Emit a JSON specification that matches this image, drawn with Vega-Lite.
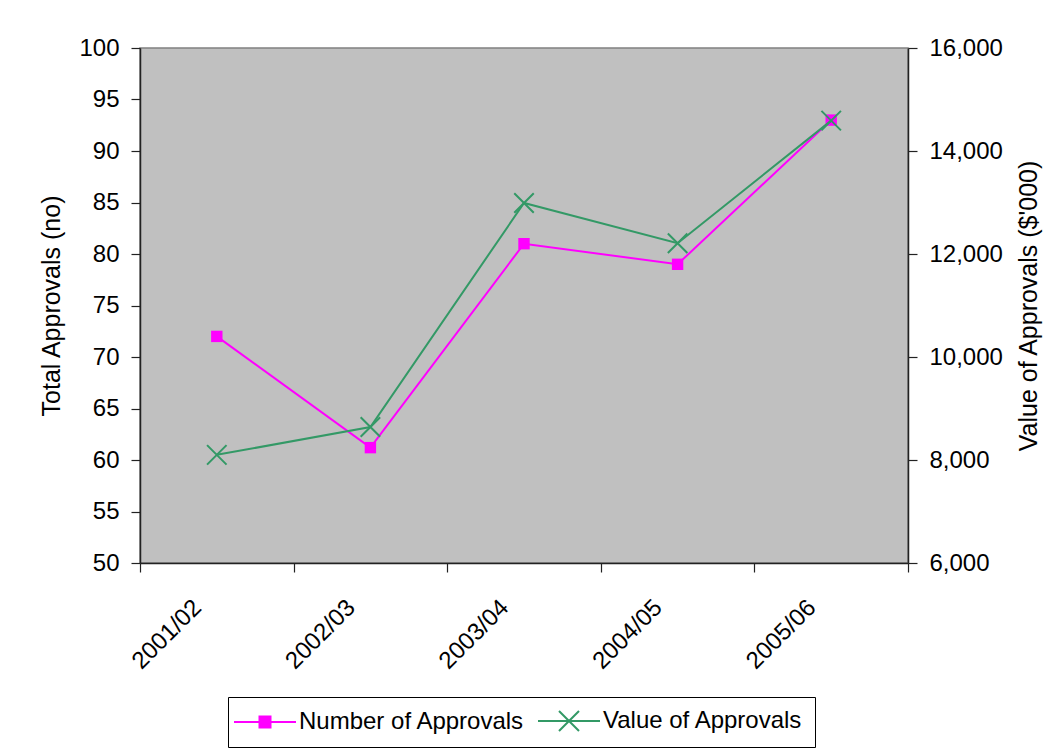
{
  "$schema": "https://vega.github.io/schema/vega-lite/v6.json",
  "width": 768,
  "height": 515,
  "autosize": "none",
  "padding": {"left": 140, "top": 48, "right": 150, "bottom": 186},
  "background": "white",
  "config": {
    "font": "Liberation Sans",
    "view": {"fill": "#C0C0C0", "stroke": "#808080", "strokeWidth": 1.5},
    "axis": {
      "grid": false,
      "domainColor": "#222222",
      "domainWidth": 1.5,
      "tickColor": "#222222",
      "tickWidth": 1.2,
      "tickSize": 9,
      "labelColor": "black",
      "labelFont": "Liberation Sans",
      "labelFontSize": 24,
      "titleColor": "black",
      "titleFont": "Liberation Sans",
      "titleFontSize": 25,
      "titleFontWeight": "normal"
    }
  },
  "data": {
    "values": [
      {"year": "2001/02", "number": 72, "value": 8100},
      {"year": "2002/03", "number": 61.2, "value": 8640},
      {"year": "2003/04", "number": 81, "value": 12990},
      {"year": "2004/05", "number": 79, "value": 12210},
      {"year": "2005/06", "number": 93, "value": 14590}
    ]
  },
  "encoding": {
    "x": {
      "field": "year",
      "type": "nominal",
      "sort": null,
      "scale": {"paddingInner": 0, "paddingOuter": 0},
      "axis": {
        "title": null,
        "labelAngle": -45,
        "labelPadding": 23,
        "labelOffset": -28,
        "tickBand": "extent",
        "labelAlign": "right",
        "labelBaseline": "top"
      }
    }
  },
  "layer": [
    {
      "layer": [
        {
          "mark": {"type": "line", "strokeWidth": 2},
          "encoding": {
            "y": {
              "field": "number",
              "type": "quantitative",
              "scale": {"domain": [50, 100], "nice": false, "zero": false},
              "axis": {
                "orient": "left",
                "title": "Total Approvals (no)",
                "values": [50, 55, 60, 65, 70, 75, 80, 85, 90, 95, 100],
                "labelPadding": 12,
                "titlePadding": 14
              }
            },
            "color": {
              "datum": "Number of Approvals",
              "type": "nominal",
              "scale": {"domain": ["Number of Approvals", "Value of Approvals"], "range": ["#FF00FF", "#339966"]},
              "legend": {
                "orient": "none",
                "legendX": 88,
                "legendY": 649,
                "direction": "horizontal",
                "title": null,
                "strokeColor": "black",
                "fillColor": "white",
                "padding": 12,
                "labelFontSize": 24,
                "labelFont": "Liberation Sans",
                "labelColor": "black",
                "labelLimit": 500,
                "symbolSize": 400,
                "symbolStrokeWidth": 2,
                "symbolOffset": 13,
                "labelOffset": 22,
                "columnPadding": 9,
                "symbolType": "M-3.1,0H3.1",
                "encode": {
                  "symbols": {
                    "update": {
                      "shape": {"signal": "datum.value === 'Number of Approvals' ? 'M-3.1,0H3.1M-0.55,-0.55H0.55V0.55H-0.55Z' : 'M-3.1,0H3.1M-1,-1L1,1M-1,1L1,-1'"},
                      "fill": {"signal": "datum.value === 'Number of Approvals' ? '#FF00FF' : 'transparent'"},
                      "stroke": {"signal": "datum.value === 'Number of Approvals' ? '#FF00FF' : '#339966'"},
                      "opacity": {"value": 1},
                      "fillOpacity": {"value": 1},
                      "strokeOpacity": {"value": 1}
                    }
                  }
                }
              }
            }
          }
        },
        {
          "mark": {"type": "point", "shape": "square", "filled": true, "size": 130, "opacity": 1},
          "encoding": {
            "y": {"field": "number", "type": "quantitative"},
            "color": {"datum": "Number of Approvals", "type": "nominal"}
          }
        }
      ]
    },
    {
      "layer": [
        {
          "mark": {"type": "line", "strokeWidth": 2},
          "encoding": {
            "y": {
              "field": "value",
              "type": "quantitative",
              "scale": {"domain": [6000, 16000], "nice": false, "zero": false},
              "axis": {
                "orient": "right",
                "title": "Value of Approvals ($'000)",
                "format": ",.0f",
                "values": [6000, 8000, 10000, 12000, 14000, 16000],
                "labelPadding": 12,
                "titleAngle": 270,
                "titleBaseline": "top",
                "titlePadding": 14
              }
            },
            "color": {"datum": "Value of Approvals", "type": "nominal"}
          }
        },
        {
          "mark": {"type": "point", "shape": "M-1,-1L1,1M-1,1L1,-1", "filled": false, "size": 380, "strokeWidth": 2, "opacity": 1},
          "encoding": {
            "y": {"field": "value", "type": "quantitative"},
            "color": {"datum": "Value of Approvals", "type": "nominal"}
          }
        }
      ]
    }
  ],
  "resolve": {"scale": {"y": "independent"}}
}
